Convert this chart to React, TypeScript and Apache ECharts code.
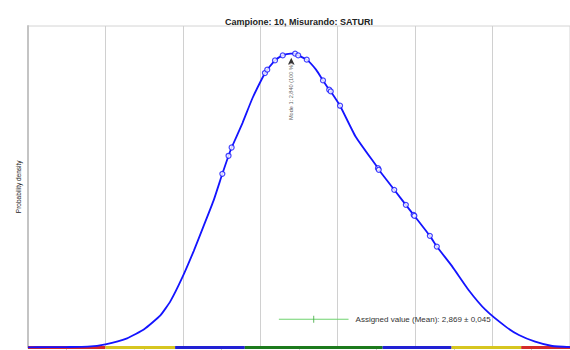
import React, { useEffect, useRef } from "react";
import * as echarts from "echarts";

const TITLE = "Campione: 10, Misurando: SATURI";
const Y_NAME = "Probability density";
const X_MIN = 2.5;
const X_MAX = 3.2;
const X_STEP = 0.1;
const Y_MAX = 4.3;

// kernel density curve [value, density]
const CURVE_X = [2.5, 2.525, 2.55, 2.577, 2.6, 2.628, 2.65, 2.671, 2.684, 2.699, 2.714, 2.727, 2.74, 2.751, 2.759, 2.763, 2.777, 2.79, 2.806, 2.809, 2.819, 2.829, 2.839, 2.845, 2.849, 2.86, 2.872, 2.881, 2.889, 2.891, 2.903, 2.923, 2.952, 2.953, 2.973, 2.988, 2.998, 2.999, 3.019, 3.028, 3.048, 3.069, 3.091, 3.117, 3.134, 3.155, 3.177, 3.2];
const CURVE_Y = [0.003, 0.004, 0.006, 0.011, 0.043, 0.123, 0.244, 0.43, 0.62, 0.93, 1.29, 1.63, 1.975, 2.323, 2.564, 2.675, 3.002, 3.337, 3.671, 3.716, 3.84, 3.907, 3.93, 3.93, 3.907, 3.85, 3.716, 3.572, 3.448, 3.425, 3.234, 2.823, 2.399, 2.377, 2.109, 1.908, 1.774, 1.761, 1.493, 1.35, 1.082, 0.77, 0.502, 0.279, 0.167, 0.078, 0.02, 0.004];

// laboratory results (circles on the curve)
const RESULTS_X = [2.751, 2.759, 2.763, 2.806, 2.809, 2.819, 2.829, 2.845, 2.849, 2.86, 2.881, 2.889, 2.891, 2.903, 2.952, 2.953, 2.973, 2.988, 2.998, 2.999, 3.019, 3.028];
const RESULTS_Y = [2.323, 2.564, 2.675, 3.671, 3.716, 3.84, 3.907, 3.93, 3.907, 3.85, 3.572, 3.448, 3.425, 3.234, 2.399, 2.377, 2.109, 1.908, 1.774, 1.761, 1.493, 1.35];

const MODE_X = 2.84;
const MODE_Y = 3.93;
const MODE_LABEL = "Mode 1: 2,840 (100 %)";

const ASSIGNED = 2.869;
const ASSIGNED_U = 0.045;
const ASSIGNED_Y = 0.378;
const ASSIGNED_LABEL = "Assigned value (Mean): 2,869 ± 0,045";

// colored classification band along x axis
const BAND_EDGES = [2.5, 2.6, 2.69, 2.78, 2.958, 3.047, 3.137, 3.2];
const BAND_COLORS = ["#d42a2a", "#d6c620", "#2121d4", "#1d7a1d", "#2121d4", "#d6c620", "#d42a2a"];

export default function App() {
  const ref = useRef<HTMLDivElement>(null);
  useEffect(() => {
    if (!ref.current) return;
    const chart = echarts.init(ref.current, undefined, { renderer: "svg" });
    const font = "Liberation Sans, Arial, sans-serif";
    const bandSeries = BAND_COLORS.map((c, i) => ({
      type: "line",
      data: [[BAND_EDGES[i], 0], [BAND_EDGES[i + 1], 0]],
      symbol: "none",
      lineStyle: { color: c, width: 3 },
      z: 1,
      silent: true,
    }));
    chart.setOption({
      animation: false,
      title: {
        text: TITLE,
        left: 294,
        top: 12,
        textAlign: "center",
        textStyle: { fontSize: 9, fontWeight: "bold", color: "#222", fontFamily: font },
      },
      grid: {
        left: 28,
        right: 0,
        top: 26,
        bottom: 2.5,
        show: true,
        borderColor: "#d4d4d4",
        borderWidth: 1,
        backgroundColor: "#fff",
      },
      xAxis: {
        type: "value",
        min: X_MIN,
        max: X_MAX,
        interval: X_STEP,
        axisLabel: { show: false },
        axisLine: { show: false },
        axisTick: { show: false },
        minorTick: { show: true, splitNumber: 2, length: 2, lineStyle: { color: "#999" } },
        splitLine: { show: true, lineStyle: { color: "#d0d0d0", width: 1 } },
      },
      yAxis: {
        type: "value",
        min: 0,
        max: Y_MAX,
        name: Y_NAME,
        nameLocation: "middle",
        nameGap: 6,
        nameRotate: 90,
        nameTextStyle: { fontSize: 6.5, color: "#222", fontFamily: font },
        axisLabel: { show: false },
        axisTick: { show: false },
        splitLine: { show: false },
        axisLine: { show: true, lineStyle: { color: "#c4c4c4", width: 2 } },
      },
      series: [
        ...bandSeries,
        {
          type: "line",
          data: CURVE_X.map((x, i) => [x, CURVE_Y[i]]),
          smooth: 0.15,
          symbol: "none",
          lineStyle: { color: "#1414ff", width: 1.8 },
          z: 3,
        },
        {
          type: "scatter",
          data: RESULTS_X.map((x, i) => [x, RESULTS_Y[i]]),
          symbol: "circle",
          symbolSize: 5,
          itemStyle: { color: "#fff", borderColor: "#1414ff", borderWidth: 1.2 },
          z: 4,
        },
        {
          type: "scatter",
          data: [[MODE_X, MODE_Y]],
          symbol: "arrow",
          symbolSize: [5, 7],
          symbolOffset: [0, 4],
          itemStyle: { color: "#000" },
          label: {
            show: true,
            formatter: MODE_LABEL,
            position: "inside",
            rotate: 90,
            align: "right",
            verticalAlign: "middle",
            offset: [-2, 0],
            fontSize: 5.6,
            color: "#333",
            fontFamily: font,
          },
          z: 5,
        },
        {
          type: "line",
          data: [[ASSIGNED - ASSIGNED_U, ASSIGNED_Y], [ASSIGNED + ASSIGNED_U, ASSIGNED_Y]],
          symbol: "none",
          lineStyle: { color: "#6fd36f", width: 1 },
          endLabel: {
            show: true,
            formatter: ASSIGNED_LABEL,
            distance: 7,
            fontSize: 8,
            color: "#333",
            fontFamily: font,
          },
          z: 2,
        },
        {
          type: "scatter",
          data: [[ASSIGNED, ASSIGNED_Y]],
          symbol: "rect",
          symbolSize: [1, 7],
          itemStyle: { color: "#3aa83a" },
          z: 2,
        },
      ],
    });
    return () => chart.dispose();
  }, []);
  return (
    <div
      ref={ref}
      style={{ position: "fixed", left: 0, top: 0, width: 570, height: 350, background: "#fff" }}
    />
  );
}
